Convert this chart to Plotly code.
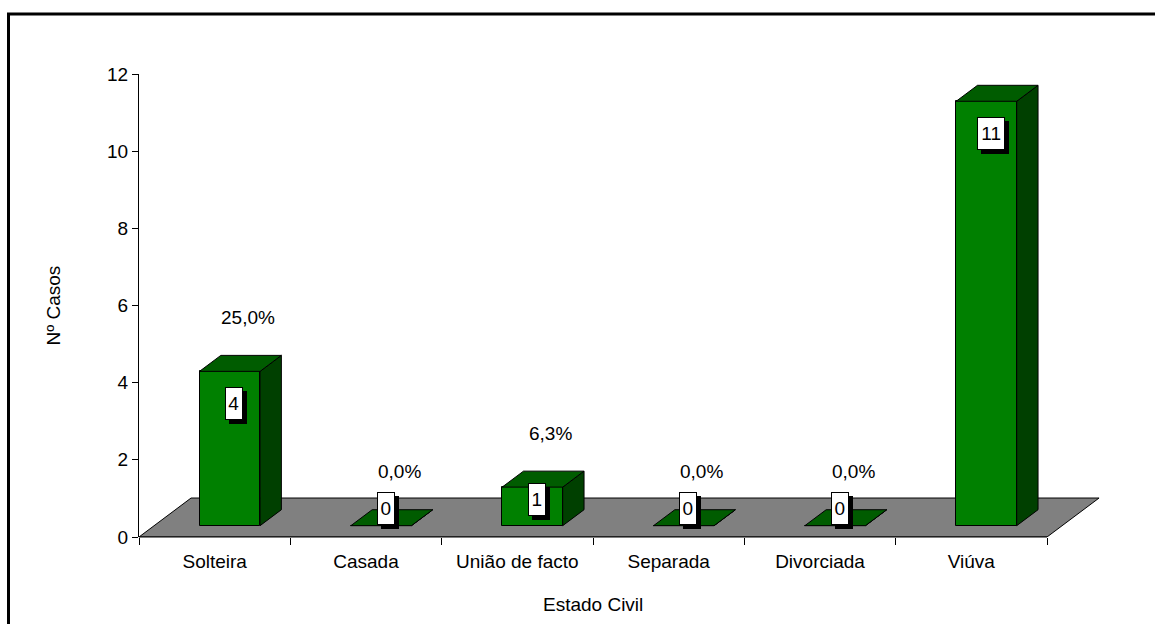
import plotly.graph_objects as go

# Estado civil das utentes: número de casos e percentagem
categories = ["Solteira", "Casada", "União de facto", "Separada", "Divorciada", "Viúva"]
cases = [4, 0, 1, 0, 0, 11]
pct_labels = ["25,0%", "0,0%", "6,3%", "0,0%", "0,0%", "68,7%"]
y_ticks = [0, 2, 4, 6, 8, 10, 12]

# page and plot-area geometry (px)
W, H = 1155, 624
M_L, M_R, M_T, M_B = 139, 32, 74, 87
PLOT_W = W - M_L - M_R
PLOT_H = H - M_T - M_B
AXIS_PX = 908                      # drawn length of the category axis
X_MAX = len(categories) * PLOT_W / AXIS_PX

# pseudo-3D depth of the floor, in data units
DEPTH_X, DEPTH_Y = 0.344, 1.01
BAR_FRONT, BAR_BACK = 0.29, 0.70   # bar front/back as fractions of floor depth
BAR_W = 0.40

FONT = "Arial, 'Liberation Sans', sans-serif"
FS = 19
GREEN_FRONT = "#008000"
GREEN_TOP = "#005c00"
GREEN_SIDE = "#004000"

fx, fy = BAR_FRONT * DEPTH_X, BAR_FRONT * DEPTH_Y
dx, dy = (BAR_BACK - BAR_FRONT) * DEPTH_X, (BAR_BACK - BAR_FRONT) * DEPTH_Y
centers = [i + 0.5 + fx for i in range(len(categories))]

fig = go.Figure()

# front faces of the bars
fig.add_trace(go.Bar(
    x=centers, y=cases, base=fy, width=BAR_W,
    marker=dict(color=GREEN_FRONT, line=dict(color="black", width=1)),
    hoverinfo="skip", showlegend=False,
))


def poly(pts):
    return "M " + " L ".join(f"{x},{y}" for x, y in pts) + " Z"


shapes = []
n = len(categories)
# grey floor
shapes.append(dict(
    type="path", xref="x", yref="y", layer="below",
    path=poly([(0, 0), (n, 0), (n + DEPTH_X, DEPTH_Y), (DEPTH_X, DEPTH_Y)]),
    fillcolor="#808080", line=dict(color="black", width=1),
))

# top and side faces of each bar
for c, v in zip(centers, cases):
    xl, xr = c - BAR_W / 2, c + BAR_W / 2
    top = fy + v
    shapes.append(dict(
        type="path", xref="x", yref="y", layer="above",
        path=poly([(xr, fy), (xr + dx, fy + dy), (xr + dx, top + dy), (xr, top)]),
        fillcolor=GREEN_SIDE, line=dict(color="black", width=1),
    ))
    shapes.append(dict(
        type="path", xref="x", yref="y", layer="above",
        path=poly([(xl, top), (xr, top), (xr + dx, top + dy), (xl + dx, top + dy)]),
        fillcolor=GREEN_TOP, line=dict(color="black", width=1),
    ))

# category axis line
shapes.append(dict(type="line", xref="x", yref="paper", x0=0, x1=n, y0=0, y1=0,
                   line=dict(color="black", width=1)))

# outer chart frame
shapes.append(dict(
    type="rect", xref="paper", yref="paper",
    x0=(8.5 - M_L) / PLOT_W, x1=1.3,
    y0=1 + (M_T - 14) / PLOT_H, y1=-0.4,
    line=dict(color="black", width=3), fillcolor="rgba(0,0,0,0)", layer="below",
))

annotations = []
for c, v, pct in zip(centers, cases, pct_labels):
    top = fy + v
    # value box: inside end of the bar, pinned above the floor for short bars
    ly = top - 0.83
    if ly < fy + 0.44:
        ly = max(top - 0.33, fy + 0.44)
    txt = str(v)
    bw = 10.6 * len(txt) + 3
    # drop shadow behind the label box
    annotations.append(dict(
        x=c + 0.03, y=ly, xref="x", yref="y", text="\u00a0", showarrow=False,
        font=dict(family=FONT, size=FS, color="black"),
        bgcolor="black", bordercolor="black", borderwidth=1, borderpad=1,
        width=bw, height=29, xshift=4, yshift=-4,
    ))
    annotations.append(dict(
        x=c + 0.03, y=ly, xref="x", yref="y", text=txt, showarrow=False,
        font=dict(family=FONT, size=FS, color="black"),
        bgcolor="white", bordercolor="black", borderwidth=1, borderpad=1,
        width=bw, height=29,
    ))
    # percentage above the bar
    annotations.append(dict(
        x=c - fx + 0.22, y=min(top + 1.4, 12.25), xref="x", yref="y",
        text=pct, showarrow=False, font=dict(family=FONT, size=FS, color="black"),
    ))

annotations.append(dict(
    x=0, y=0.5, xref="x", yref="paper", xshift=-86, text="Nº Casos", textangle=-90,
    showarrow=False, font=dict(family=FONT, size=FS, color="black"),
))
annotations.append(dict(
    x=n / 2, y=0, xref="x", yref="paper", yshift=-67, yanchor="middle",
    text="Estado Civil", showarrow=False, font=dict(family=FONT, size=FS, color="black"),
))

fig.update_layout(
    width=W, height=H,
    margin=dict(l=M_L, r=M_R, t=M_T, b=M_B, pad=0),
    paper_bgcolor="white", plot_bgcolor="white",
    font=dict(family=FONT, size=FS, color="black"),
    shapes=shapes, annotations=annotations,
    bargap=0,
    xaxis=dict(
        range=[0, X_MAX], tickmode="array",
        tickvals=[i + 0.5 for i in range(n)], ticktext=categories,
        ticks="", showline=False, showgrid=False, zeroline=False,
        ticklabelstandoff=11,
        minor=dict(tickmode="array", tickvals=list(range(n + 1)), ticks="outside",
                   ticklen=7, tickcolor="black", tickwidth=1, showgrid=False),
        fixedrange=True,
    ),
    yaxis=dict(
        range=[0, 12], tickmode="array", tickvals=y_ticks,
        ticks="outside", ticklen=6, tickcolor="black", tickwidth=1,
        showline=True, linecolor="black", linewidth=1,
        showgrid=False, zeroline=False, fixedrange=True,
    ),
)

fig.write_html("out.html")
